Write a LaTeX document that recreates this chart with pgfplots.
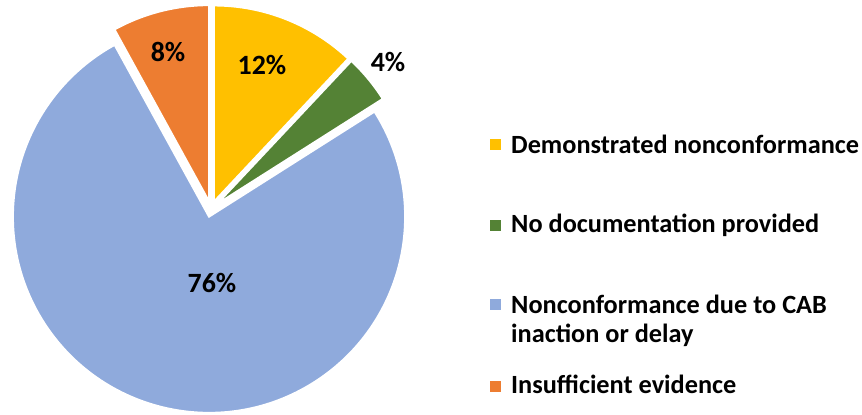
\documentclass[border=0pt]{standalone}
\usepackage{pgfplots}
\pgfplotsset{compat=1.18}
\usepackage{pgfplotstable}
\usepackage{fontspec}
\setmainfont{Carlito}
\definecolor{pie0}{HTML}{FFC000}
\definecolor{pie1}{HTML}{548235}
\definecolor{pie2}{HTML}{8FAADC}
\definecolor{pie3}{HTML}{ED7D31}
\pgfplotstableread{
value
12
4
76
8
}\piedata
\newcommand\explode{8}
\newcommand\rad{196}
\begin{document}
\begin{tikzpicture}
\useasboundingbox (0,0) rectangle (862bp,415bp);
\xdef\cum{0}
\foreach \i in {0,...,3}{
  \pgfplotstablegetelem{\i}{value}\of\piedata
  \pgfmathsetmacro\v{\pgfplotsretval}
  \pgfmathsetmacro\sa{90-3.6*\cum}
  \pgfmathsetmacro\ea{90-3.6*(\cum+\v)}
  \pgfmathsetmacro\ma{(\sa+\ea)/2}
  \expandafter\xdef\csname psa\i\endcsname{\sa}
  \expandafter\xdef\csname pea\i\endcsname{\ea}
  \expandafter\xdef\csname pma\i\endcsname{\ma}
  \pgfmathsetmacro\newcum{\cum+\v}
  \xdef\cum{\newcum}
}
\begin{axis}[
  at={(0,0)}, anchor=south west,
  x=1bp, y=1bp, xmin=0, xmax=862, ymin=0, ymax=415,
  hide axis, clip=false, scale only axis,
]
\pgfplotsinvokeforeach{0,...,3}{
  \fill[fill=pie#1, draw=white, line width=1.8bp]
    (axis cs:211,206) ++(\csname pma#1\endcsname:\explode bp)
    -- ++(\csname psa#1\endcsname:\rad bp)
    arc[start angle=\csname psa#1\endcsname, end angle=\csname pea#1\endcsname, radius=\rad bp]
    -- cycle;
}
\begin{scope}[every node/.style={font=\fontsize{28}{30}\selectfont\bfseries, inner sep=0pt}]
\node at (axis cs:262,350) {12\%};
\node at (axis cs:388,353) {4\%};
\node at (axis cs:212,132) {76\%};
\node at (axis cs:168,363) {8\%};
\end{scope}
\begin{scope}[every node/.style={font=\fontsize{26.4}{29}\selectfont\bfseries, inner sep=0pt, anchor=base west}]
\fill[pie0] (axis cs:490,265) rectangle (axis cs:501,276);
\node at (axis cs:511,262) {Demonstrated nonconformance};
\fill[pie1] (axis cs:490,184) rectangle (axis cs:501,195);
\node at (axis cs:511,183) {No documentation provided};
\fill[pie2] (axis cs:490,105) rectangle (axis cs:501,116);
\node at (axis cs:511,102) {Nonconformance due to CAB};
\node at (axis cs:511,73) {inaction or delay};
\fill[pie3] (axis cs:490,23) rectangle (axis cs:501,34);
\node at (axis cs:511,22) {Insufficient evidence};
\end{scope}
\end{axis}
\end{tikzpicture}
\end{document}
